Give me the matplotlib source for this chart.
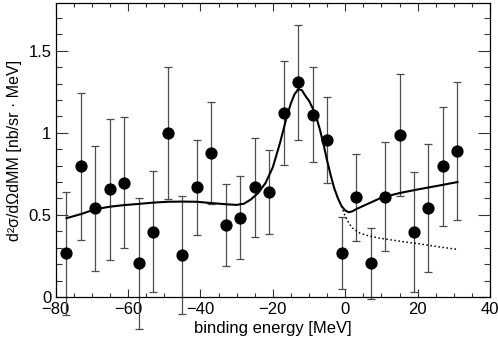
import matplotlib
matplotlib.use("Agg")
import matplotlib.pyplot as plt
from matplotlib.ticker import MultipleLocator, FixedLocator

plt.rcParams['font.family'] = ['Liberation Sans', 'DejaVu Sans']

# data points (binding energy, cross section, error)
energy = [-77, -73, -69, -65, -61, -57, -53, -49, -45, -41, -37, -33, -29,
          -25, -21, -17, -13, -9, -5, -1, 3, 7, 11, 15, 19, 23, 27, 31]
xsec = [0.266, 0.795, 0.541, 0.657, 0.697, 0.205, 0.398, 0.998, 0.256, 0.667,
        0.876, 0.437, 0.484, 0.667, 0.642, 1.120, 1.307, 1.110, 0.957, 0.266,
        0.608, 0.205, 0.612, 0.988, 0.398, 0.541, 0.795, 0.892]
err = [0.376, 0.45, 0.38, 0.43, 0.40, 0.40, 0.37, 0.40, 0.36, 0.29,
       0.31, 0.25, 0.25, 0.30, 0.256, 0.315, 0.35, 0.29, 0.26, 0.22,
       0.265, 0.215, 0.33, 0.37, 0.365, 0.39, 0.36, 0.42]

# fit curve (solid)
fit_x = [-77, -73, -69, -65, -61, -57, -53, -49, -45, -41, -37, -33, -30, -28,
         -26, -24, -22, -20, -18, -16, -15, -14, -13, -12, -11, -10, -9, -8,
         -7, -6, -5, -4, -3, -2, -1, 0, 1, 2, 3, 5, 7, 10, 15, 20, 25, 31]
fit_y = [0.48, 0.505, 0.535, 0.55, 0.56, 0.567, 0.575, 0.58, 0.581, 0.58,
         0.572, 0.565, 0.561, 0.568, 0.595, 0.635, 0.695, 0.79, 0.94, 1.11,
         1.18, 1.235, 1.265, 1.26, 1.225, 1.195, 1.15, 1.095, 1.02, 0.93,
         0.83, 0.74, 0.66, 0.60, 0.553, 0.527, 0.516, 0.522, 0.535, 0.555,
         0.575, 0.605, 0.633, 0.655, 0.675, 0.70]

# background curve (dotted)
bg_x = [-1, 0, 1, 2, 4, 6, 9, 12, 16, 21, 26, 31]
bg_y = [0.553, 0.49, 0.45, 0.42, 0.39, 0.375, 0.36, 0.35, 0.337, 0.322, 0.305, 0.29]

xticks = [-80, -60, -40, -20, 0, 20, 40]
xtick_labels = ["\u221280", "\u221260", "\u221240", "\u221220", "0", "20", "40"]
yticks = [0, 0.5, 1, 1.5]
ytick_labels = ["0", "0.5", "1", "1.5"]

fig = plt.figure(figsize=(4.98, 3.41), dpi=100)
ax = fig.add_axes([0.1117, 0.129, 0.8723, 0.862])

ax.errorbar(energy, xsec, yerr=err, fmt='none', ecolor='#4d4d4d',
            elinewidth=0.9, capsize=2.9, capthick=0.9, clip_on=False, zorder=2)
ax.plot(energy, xsec, 'o', color='black', markersize=7.8, clip_on=False, zorder=4)
ax.plot(fit_x, fit_y, '-', color='black', linewidth=1.5, zorder=3)
ax.plot(bg_x, bg_y, ':', color='black', linewidth=1.1, zorder=3)

ax.set_xlim(-80, 40)
ax.set_ylim(0, 1.79)
ax.xaxis.set_major_locator(FixedLocator(xticks))
ax.set_xticklabels(xtick_labels)
ax.xaxis.set_minor_locator(MultipleLocator(5))
ax.yaxis.set_major_locator(FixedLocator(yticks))
ax.set_yticklabels(ytick_labels)
ax.yaxis.set_minor_locator(MultipleLocator(0.1))

ax.tick_params(axis='both', which='both', direction='in', top=True, right=True,
               labelsize=12, width=0.8, color='#333333')
ax.tick_params(axis='x', which='major', length=5.8, pad=3.5)
ax.tick_params(axis='x', which='minor', length=2.9)
ax.tick_params(axis='y', which='major', length=8.6, pad=3)
ax.tick_params(axis='y', which='minor', length=4.3)
for s in ax.spines.values():
    s.set_linewidth(0.9)

ax.set_xlabel("binding energy [MeV]", fontsize=12, labelpad=3)
ax.set_ylabel("d\u00b2\u03c3/d\u03a9dMM [nb/sr \u00b7 MeV]", fontsize=11.5, labelpad=5)

fig.savefig("out.png", dpi=100)
